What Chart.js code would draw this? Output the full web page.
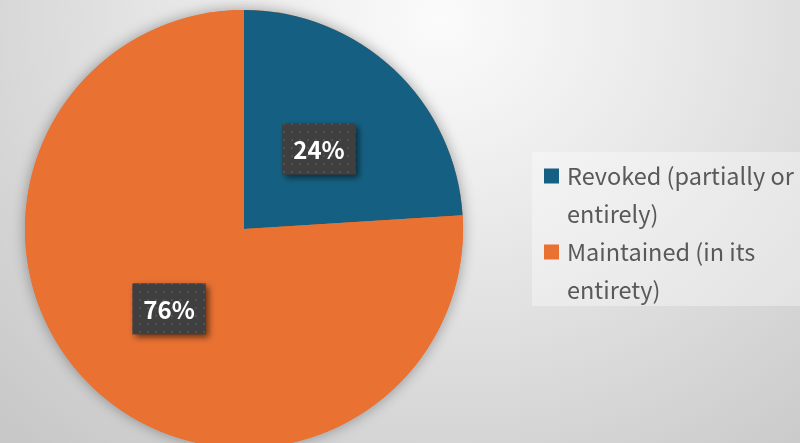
<!DOCTYPE html>
<html>
<head>
<meta charset="utf-8">
<script src="https://cdn.jsdelivr.net/npm/chart.js@4.4.1/dist/chart.umd.min.js"></script>
<style>
  html, body { margin: 0; padding: 0; width: 800px; height: 443px; overflow: hidden; }
  body { background: radial-gradient(ellipse 620px 560px at 440px 20px, #fbfbfb 0%, #e8e8e8 40%, #c8c8c8 100%); }
  canvas { display: block; }
</style>
</head>
<body>
<canvas id="c" width="800" height="443"></canvas>
<script>
const categories = ['Revoked (partially or entirely)', 'Maintained (in its entirety)'];
const legendLines = [['Revoked (partially or', 'entirely)'], ['Maintained (in its', 'entirety)']];
const values = [24, 76];
const colors = ['#156082', '#E97132'];

const FONT = '"Noto Sans CJK JP", "Noto Sans", sans-serif';

function makePattern(ctx) {
  const c = document.createElement('canvas');
  c.width = 8; c.height = 8;
  const g = c.getContext('2d');
  g.fillStyle = '#3f3f3f'; g.fillRect(0, 0, 8, 8);
  g.fillStyle = '#515151'; g.fillRect(3, 3, 2, 2);
  return ctx.createPattern(c, 'repeat');
}

const decor = {
  id: 'decor',
  beforeDatasetsDraw(chart) {
    const meta = chart.getDatasetMeta(0);
    const a = meta.data[0];
    if (!a) return;
    const ctx = chart.ctx;
    ctx.save();
    ctx.shadowColor = 'rgba(0,0,0,0.35)';
    ctx.shadowBlur = 14;
    ctx.fillStyle = colors[1];
    ctx.beginPath();
    ctx.arc(a.x, a.y, a.outerRadius, 0, Math.PI * 2);
    ctx.fill();
    ctx.restore();
  },
  afterDatasetsDraw(chart) {
    const ctx = chart.ctx;
    const meta = chart.getDatasetMeta(0);
    const total = values.reduce((s, v) => s + v, 0);
    const pat = makePattern(ctx);
    meta.data.forEach((arc, i) => {
      const p = arc.tooltipPosition();
      const txt = Math.round(values[i] / total * 100) + '%';
      ctx.save();
      ctx.font = 'bold 24px ' + FONT;
      const w = ctx.measureText(txt).width + 22;
      const h = 51;
      const x = p.x - w / 2, y = p.y - h / 2;
      ctx.shadowColor = 'rgba(0,0,0,0.55)';
      ctx.shadowBlur = 6;
      ctx.shadowOffsetX = 3;
      ctx.shadowOffsetY = 3;
      ctx.fillStyle = pat;
      ctx.fillRect(x, y, w, h);
      ctx.restore();
      ctx.save();
      ctx.font = 'bold 24px ' + FONT;
      ctx.fillStyle = '#ffffff';
      ctx.textAlign = 'center';
      ctx.textBaseline = 'middle';
      ctx.fillText(txt, p.x, p.y + 1);
      ctx.restore();
    });
  },
  afterDraw(chart) {
    const ctx = chart.ctx;
    ctx.save();
    ctx.fillStyle = 'rgba(255,255,255,0.35)';
    ctx.fillRect(532, 152, 268, 154);
    ctx.font = '23.5px ' + FONT;
    ctx.textBaseline = 'middle';
    const lineH = 38;
    let y = 176;
    legendLines.forEach((lines, i) => {
      ctx.fillStyle = colors[i];
      ctx.fillRect(544, y - 7.5, 15, 15);
      ctx.fillStyle = '#595959';
      lines.forEach((ln, j) => {
        ctx.fillText(ln, 567, y + j * lineH);
      });
      y += lines.length * lineH;
    });
    ctx.restore();
  }
};

new Chart(document.getElementById('c'), {
  type: 'pie',
  data: {
    labels: categories,
    datasets: [{
      data: values,
      backgroundColor: colors,
      borderWidth: 0,
      radius: 219,
      clip: false
    }]
  },
  options: {
    responsive: false,
    devicePixelRatio: 1,
    animation: false,
    layout: { padding: { left: 0, right: 312, top: 15, bottom: 0 } },
    plugins: {
      legend: { display: false },
      tooltip: { enabled: false }
    }
  },
  plugins: [decor]
});
</script>
</body>
</html>
